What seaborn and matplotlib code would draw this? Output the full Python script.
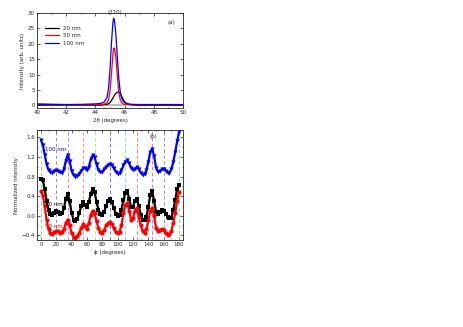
import numpy as np
import pandas as pd
import matplotlib.pyplot as plt
import seaborn as sns

sns.set_style("ticks")
plt.rcParams['font.family'] = ['DejaVu Sans']
plt.rcParams['font.size'] = 4

# ---- panel (a): XRD (220) peak ----
two_theta = [40, 41, 42, 43, 44, 44.4, 44.6, 44.8, 44.9, 45.0, 45.1, 45.2, 45.25, 45.3,
             45.4, 45.5, 45.6, 45.7, 45.8, 45.9, 46.0, 46.2, 46.4, 46.6, 47, 48, 49, 50]
i_20nm = [0.1, 0.1, 0.1, 0.1, 0.1, 0.12, 0.18, 0.35, 0.55, 0.95, 1.6, 2.4, 2.8, 3.2,
          3.9, 4.3, 4.3, 3.9, 3.0, 2.0, 1.2, 0.5, 0.22, 0.12, 0.05, 0.05, 0.05, 0.05]
i_50nm = [0.5, 0.35, 0.25, 0.2, 0.25, 0.3, 0.45, 0.9, 1.8, 4.5, 10.0, 16.5, 18.4, 18.7,
          16.0, 10.0, 4.5, 2.0, 0.9, 0.5, 0.35, 0.25, 0.2, 0.2, 0.2, 0.2, 0.2, 0.2]
i_100nm = [0.4, 0.35, 0.3, 0.35, 0.5, 0.7, 1.1, 2.6, 5.5, 11.5, 20.0, 26.8, 28.3, 27.8,
           23.5, 16.0, 9.0, 4.6, 2.4, 1.4, 0.9, 0.55, 0.42, 0.36, 0.3, 0.3, 0.3, 0.3]

# ---- panel (b): phi scans ----
phi = np.arange(0, 180.1, 2.5)
n_100nm = [1.55, 1.45, 1.25, 1.05, 0.93, 0.89, 0.88, 0.91, 0.93, 0.92, 0.89, 0.88, 0.95,
           1.12, 1.25, 1.12, 0.92, 0.83, 0.80, 0.82, 0.86, 0.92, 0.97, 0.97, 0.93, 1.0,
           1.15, 1.24, 1.2, 1.05, 0.94, 0.89, 0.90, 0.95, 1.0, 1.04, 1.05, 1.03, 0.97,
           0.9, 0.86, 0.87, 0.93, 1.03, 1.1, 1.13, 1.07, 0.98, 0.94, 0.96, 0.99, 0.95,
           0.88, 0.84, 0.85, 0.93, 1.1, 1.3, 1.37, 1.22, 0.98, 0.9, 0.91, 0.95, 0.95,
           0.92, 0.88, 0.88, 0.95, 1.1, 1.3, 1.52, 1.72]
n_20nm = [0.75, 0.72, 0.55, 0.3, 0.12, 0.03, 0.01, 0.06, 0.1, 0.08, 0.04, 0.05, 0.15,
          0.35, 0.45, 0.3, 0.05, -0.08, -0.12, -0.06, 0.05, 0.2, 0.27, 0.22, 0.18, 0.28,
          0.45, 0.55, 0.48, 0.28, 0.12, 0.03, 0.01, 0.08, 0.2, 0.3, 0.33, 0.28, 0.15,
          0.04, 0.0, 0.02, 0.12, 0.32, 0.46, 0.5, 0.35, 0.18, 0.18, 0.3, 0.35, 0.2,
          0.02, -0.08, -0.1, -0.02, 0.18, 0.42, 0.5, 0.3, 0.08, 0.04, 0.08, 0.12, 0.1,
          0.03, -0.02, -0.05, -0.04, 0.12, 0.32, 0.55, 0.62]
n_50nm = [0.5, 0.42, 0.2, -0.1, -0.28, -0.36, -0.38, -0.34, -0.31, -0.32, -0.35, -0.34,
          -0.28, -0.15, -0.08, -0.2, -0.36, -0.43, -0.45, -0.42, -0.36, -0.25, -0.18,
          -0.22, -0.27, -0.15, 0.02, 0.1, 0.05, -0.12, -0.26, -0.34, -0.35, -0.3, -0.2,
          -0.15, -0.13, -0.17, -0.26, -0.34, -0.36, -0.33, -0.2, 0.05, 0.22, 0.25, 0.1,
          -0.08, -0.05, 0.1, 0.15, -0.02, -0.2, -0.32, -0.35, -0.28, -0.1, 0.1, 0.16,
          0.0, -0.25, -0.32, -0.3, -0.28, -0.3, -0.36, -0.39, -0.38, -0.32, -0.15, 0.05,
          0.3, 0.48]

guide_phi = [0, 20, 35, 55, 70, 90, 110, 125, 145, 160, 180]
guide_colors = ['#66dd66', '#7777ee', '#ee55ee', '#ff7777', '#88ee88', '#5555ee',
                '#66dddd', '#ff6666', '#ee44ee', '#888888', '#66ee66']

fig = plt.figure(figsize=(4.63, 3.27), dpi=100)
ax1 = fig.add_axes([0.08, 0.67, 0.315, 0.29])
ax2 = fig.add_axes([0.08, 0.266, 0.315, 0.336])

df_a = pd.DataFrame({'x': two_theta * 3,
                     'y': i_20nm + i_50nm + i_100nm,
                     's': ['20 nm'] * len(two_theta) + ['50 nm'] * len(two_theta)
                          + ['100 nm'] * len(two_theta)})
ax1.plot([44.8, 46.0], [0, 0], color='#bbbbbb', lw=1.5)
sns.lineplot(data=df_a, x='x', y='y', hue='s', ax=ax1,
             palette={'20 nm': 'black', '50 nm': 'red', '100 nm': 'blue'}, lw=0.9)
ax1.set_xlim(40, 50)
ax1.set_ylim(-0.8, 30)
ax1.set_xticks([40, 42, 44, 46, 48, 50])
ax1.set_xticks(np.arange(40, 51, 1), minor=True)
ax1.set_yticks([0, 5, 10, 15, 20, 25, 30])
ax1.set_xlabel('2θ (degrees)', fontsize=4, labelpad=2)
ax1.set_ylabel('Intensity (arb. units)', fontsize=4, labelpad=2)
ax1.legend(loc='upper left', frameon=False, fontsize=4, handlelength=2.5,
           bbox_to_anchor=(0.02, 0.92))
ax1.text(45.35, 30.3, '(220)', fontsize=4, ha='center', va='center')
ax1.text(49.2, 26.5, '(a)', fontsize=4, ha='center')

for p, c in zip(guide_phi, guide_colors):
    ax2.axvline(p, color=c, ls=(0, (4, 3)), lw=0.6)
for vals, col, mk, name, ty in [(n_100nm, 'blue', 'v', '100 nm', 1.35),
                                (n_20nm, 'black', 's', '20 nm', 0.22),
                                (n_50nm, 'red', 'o', '50 nm', -0.22)]:
    sns.lineplot(x=phi, y=vals, ax=ax2, color=col, marker=mk, markersize=3,
                 markeredgewidth=0, lw=1.6)
    ax2.text(6, ty, name, color=col, fontsize=4, va='center')
ax2.text(146, 1.58, '(b)', fontsize=4, ha='center')
ax2.set_xlim(-5, 185)
ax2.set_ylim(-0.5, 1.75)
ax2.set_xticks(np.arange(0, 181, 20))
ax2.set_xticks(np.arange(0, 181, 10), minor=True)
ax2.set_yticks([-0.4, 0.0, 0.4, 0.8, 1.2, 1.6])
ax2.set_yticks(np.arange(-0.4, 1.7, 0.2), minor=True)
ax2.set_xlabel('ϕ (degrees)', fontsize=4, labelpad=2)
ax2.set_ylabel('Normalized intensity', fontsize=4, labelpad=2)

for ax in (ax1, ax2):
    ax.tick_params(which='both', direction='in', top=True, right=True, labelsize=4,
                   width=0.5, pad=1.5)
    ax.tick_params(which='major', length=2)
    ax.tick_params(which='minor', length=1)
    for s in ax.spines.values():
        s.set_linewidth(0.6)

fig.savefig('out.png', dpi=100)
